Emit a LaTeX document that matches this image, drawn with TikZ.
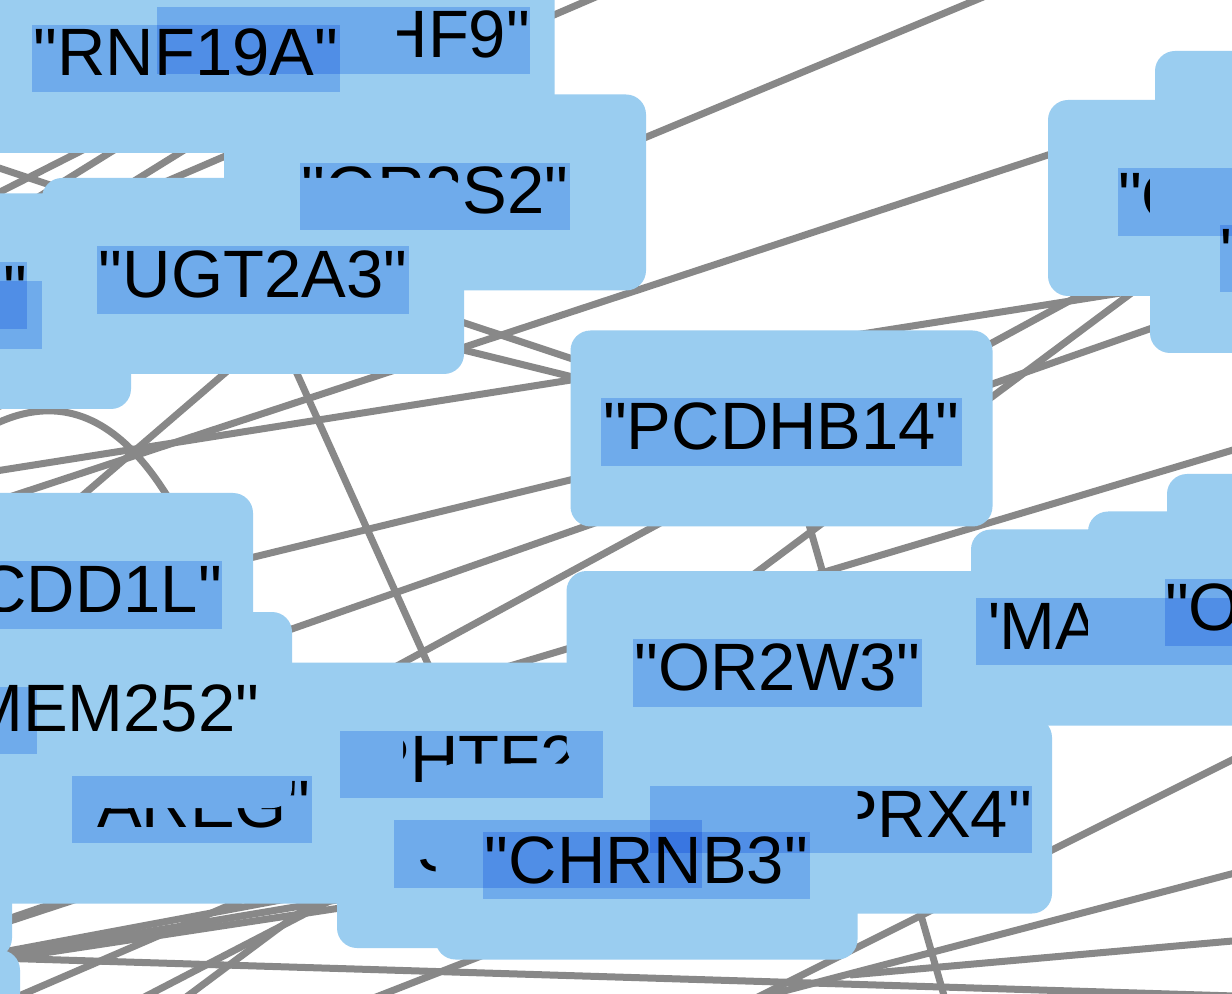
\documentclass[tikz,border=0pt]{standalone}
\usepackage{fontspec}
\newfontfamily\lbfont{Liberation Sans}
\pgfdeclarelayer{edgelayer}
\pgfdeclarelayer{boxlayer}
\pgfsetlayers{edgelayer,main,boxlayer}
\definecolor{nodeblue}{RGB}{154,205,240}
\definecolor{edgegray}{RGB}{136,136,136}
\definecolor{boxblue}{RGB}{184,213,250}
\tikzset{
  gnode/.style={fill=nodeblue, draw=none, rounded corners=10pt, minimum width=211pt, minimum height=98pt, inner sep=0pt},
  gtext/.style={inner sep=0pt, font=\lbfont\fontsize{33.5}{40}\selectfont, text height=25.5pt, text depth=8pt},
  gedge/.style={draw=edgegray, line width=3.5pt},
  lbox/.style={fill=boxblue, blend mode=multiply},
}
\newcommand\lbl[6]{\node[gtext, text width=#4, align=#5] (#1) at (#2,#3) {\mbox{#6}};}
\begin{document}
\begin{tikzpicture}[x=0.5pt,y=-0.5pt]
\useasboundingbox (0,0) rectangle (1232,994);
% ---------------- nodes (in stacking order) ----------------
\node[gnode] (hf9) at (343.5,36.5) {};   \lbl{hf9t}{343.5}{40.5}{186.5pt}{right}{"PLEKHF9"}
\node[gnode] (rnf) at (186,55) {};       \lbl{rnft}{186}{58.5}{154pt}{center}{"RNF19A"}
\node[gnode] (or2s2) at (435,192.5) {};  \lbl{or2s2t}{435}{196.5}{135pt}{center}{"OR2S2"}
\node[gnode] (l2) at (-80,311) {};       \lbl{l2t}{-80}{315}{122pt}{right}{}
\node[gnode] (l1) at (-90,291.5) {};     \lbl{l1t}{-90}{295.5}{117pt}{right}{"CD81"}
\node[gnode] (ugt) at (253,276) {};      \lbl{ugtt}{253}{280}{156pt}{center}{"UGT2A3"}
\node[gnode] (pcd) at (781.5,428.5) {};  \lbl{pcdt}{781.5}{432}{180.5pt}{center}{"PCDHB14"}
\node[gnode] (rc) at (1259,198) {};      \lbl{rct}{1259}{202}{141pt}{left}{"OR2T4"}
\node[gnode] (rd1) at (1366,149) {};
\node[gnode] (rd2) at (1361,255) {};     \lbl{rd2t}{1361}{258.5}{141pt}{left}{"OR2T5"}
\node[gnode] (cdd) at (42,591) {};       \lbl{cddt}{42}{595}{180pt}{right}{"PCDD1L"}
\node[gnode] (xn) at (-180,716.5) {};    \lbl{xt}{-180}{720.5}{217pt}{right}{}
\node[gnode] (n1) at (-199,860) {};
\node[gnode] (n2) at (-191,1048) {};
\node[gnode] (b1) at (548,850) {};       \lbl{b1t}{548}{854}{154pt}{left}{"SLC6A4"}
\node[gnode] (phtf) at (471.5,760.5) {}; \lbl{phtft}{471.5}{764.5}{131.5pt}{center}{"PHTF2"}
\node[gnode] (areg) at (192,805.5) {};   \lbl{aregt}{192}{809.5}{120pt}{center}{"AREG"}
\node[gnode] (tmem) at (81,710) {};      \lbl{tmemt}{81}{714}{180pt}{center}{"TMEM252"}
\node[gnode] (prx) at (841,815.5) {};    \lbl{prxt}{841}{819.5}{191pt}{right}{"DPRX4"}
\node[gnode] (chrnb) at (646.5,861.5) {};\lbl{chrnbt}{646.5}{865.5}{163.5pt}{center}{"CHRNB3"}
\node[gnode] (ma) at (1182,627.5) {};    \lbl{mat}{1182}{631.5}{206pt}{left}{"MAGEA10"}
\node[gnode] (rb) at (1378,572) {};
\node[gnode] (ra) at (1299,609.5) {};    \lbl{rat}{1299}{612.5}{134pt}{left}{"OR1L4"}
\node[gnode] (or2w3) at (777.5,669) {};  \lbl{or2w3t}{777.5}{673}{144.5pt}{center}{"OR2W3"}
% ---------------- free ends of connectors ----------------
\coordinate (t1e) at (640,-22);
\coordinate (t2a) at (-250,510);  \coordinate (t2b) at (1000,-10);
\coordinate (t3a) at (-100,533);  \coordinate (t3b) at (1300,72);
\coordinate (ala) at (-200,502);
\coordinate (laa) at (-100,135);
\coordinate (lba) at (-100,211);
\coordinate (l1a) at (-300,692);
\coordinate (ga) at (-300,836);
\coordinate (hub1) at (-200,990);
\coordinate (lja) at (48,1100);
\coordinate (lha) at (-200,878);  \coordinate (lhb) at (1300,430);
\coordinate (hub2) at (951,1020);
\coordinate (lda) at (-174,716);
\coordinate (arca) at (-40,445);  \coordinate (arcb) at (230,640);
\coordinate (s0a) at (-150,268);  \coordinate (s0b) at (300,40);
\coordinate (s1a) at (-150,314);  \coordinate (s1b) at (420,-40);
\coordinate (s2a) at (-150,357);  \coordinate (s2b) at (470,-27);
\coordinate (lka) at (700,1026);  \coordinate (lkb) at (1300,726);
\coordinate (lma) at (700,1013);  \coordinate (lmb) at (1300,856);
\coordinate (lla) at (-200,952);  \coordinate (llb) at (1300,998);
\coordinate (bl1) at (-60,1030);  \coordinate (bl2) at (100,1020);
\coordinate (bm1) at (330,1015);
\coordinate (lna) at (850,975);   \coordinate (lnb) at (1300,935);
% ---------------- connectors ----------------
\begin{pgfonlayer}{edgelayer}
\fill[white] (0,0) rectangle (1232,994);
\draw[gedge] (l1.center) -- (t1e);
\draw[gedge] (t2a) -- (t2b);
\draw[gedge] (t3a) -- (t3b);
\draw[gedge] (ala) -- (rd2.center);
\draw[gedge] (laa) -- (pcd.center);
\draw[gedge] (lba) -- (pcd.center);
\draw[gedge] (l1a) -- (pcd.center);
\draw[gedge] (ga) -- (rd2.center);
\draw[gedge] (hub1) -- (rc.center);
\draw[gedge] (lja) -- (rc.center);
\draw[gedge] (lha) -- (lhb);
\draw[gedge] (pcd.center) -- (hub2);
\draw[gedge] (ugt.center) -- (phtf.center);
\draw[gedge] (or2s2.center) -- (lda);
\draw[gedge] (arca) .. controls (30,395) and (140,360) .. (arcb);
\draw[gedge] (s0a) -- (s0b);
\draw[gedge] (s1a) -- (s1b);
\draw[gedge] (s2a) -- (s2b);
\draw[gedge] (lka) -- (lkb);
\draw[gedge] (lma) -- (lmb);
\draw[gedge] (lla) -- (llb);
\draw[gedge] (lna) -- (lnb);
\draw[gedge] (hub1) -- (b1.center);
\draw[gedge] (hub1) -- (chrnb.center);
\draw[gedge] (hub1) -- (prx.center);
\draw[gedge] (hub1) -- (phtf.center);
\draw[gedge] (hub1) -- (or2w3.center);
\draw[gedge] (bl1) -- (or2w3.center);
\draw[gedge] (bl2) -- (or2w3.center);
\draw[gedge] (bm1) -- (prx.center);
\end{pgfonlayer}
% ---------------- label highlight boxes ----------------
\begin{pgfonlayer}{boxlayer}
\foreach \n in {hf9t,rnft,or2s2t,l2t,l1t,ugtt,pcdt,rct,rd2t,cddt,xt,b1t,phtft,aregt,prxt,chrnbt,mat,rat,or2w3t}
  \fill[lbox] (\n.south west) rectangle (\n.north east);
\end{pgfonlayer}
\end{tikzpicture}
\end{document}
